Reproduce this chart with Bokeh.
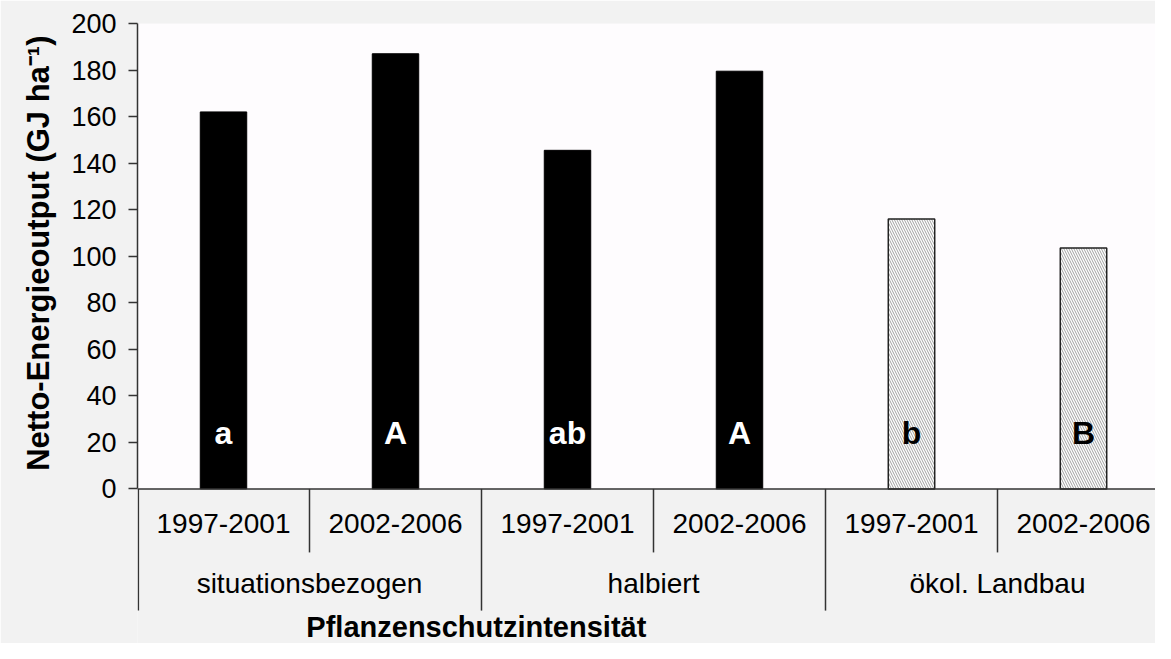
from bokeh.plotting import figure
from bokeh.models import Range1d, FixedTicker, ColumnDataSource, Title
from bokeh.core.properties import value
from bokeh.embed import file_html
from bokeh.resources import INLINE

# ---- data ----
groups = ["situationsbezogen", "halbiert", "ökol. Landbau"]
periods = ["1997-2001", "2002-2006"]
values = [162, 187, 145.5, 179.5, 116, 103.5]
letters = ["a", "A", "ab", "A", "b", "B"]
organic = [False, False, False, False, True, True]
y_ticks = [0, 20, 40, 60, 80, 100, 120, 140, 160, 180, 200]
y_label = "Netto-Energieoutput (GJ ha\u207b\u00b9)"
x_title = "Pflanzenschutzintensität"

# ---- layout constants ----
W, H = 1155, 643
LEFT, TOP = 137, 23
PX_PER_CAT = 172.0
PX_PER_UNIT = 2.327
FONT = "Liberation Sans"
n = len(values)
x_end = (W - LEFT) / PX_PER_CAT
y_bottom = 200 - (H - TOP) / PX_PER_UNIT

p = figure(width=W, height=H, x_range=Range1d(0, x_end), y_range=Range1d(y_bottom, 200),
           output_backend="svg", toolbar_location=None, x_axis_location=None,
           min_border_left=LEFT, min_border_right=0, min_border_top=TOP, min_border_bottom=0)
p.border_fill_color = "#f2f2f2"
p.background_fill_color = "#f2f2f2"
p.outline_line_color = None
p.xgrid.visible = False
p.ygrid.visible = False

# plot area
p.quad(left=[0], right=[n], bottom=[0], top=[200], fill_color="#fefcfe", line_color=None, level="underlay")

centers = [i + 0.5 for i in range(n)]
bw = 0.27
src_black = ColumnDataSource(dict(x=[c for c, o in zip(centers, organic) if not o],
                                  top=[v for v, o in zip(values, organic) if not o]))
src_hatch = ColumnDataSource(dict(x=[c for c, o in zip(centers, organic) if o],
                                  top=[v for v, o in zip(values, organic) if o]))
p.vbar(x="x", top="top", bottom=0, width=bw, source=src_black, fill_color="black", line_color="black")
p.vbar(x="x", top="top", bottom=0, width=bw, source=src_hatch, fill_color="white",
       line_color="#222222", line_width=1.5, hatch_pattern="left_diagonal_line",
       hatch_color="#a0a0a0", hatch_scale=5, hatch_weight=1)

# letters
p.text(x=centers, y=[24] * n, text=letters,
       text_color=["black" if o else "white" for o in organic],
       text_align="center", text_baseline="alphabetic", text_font=value(FONT),
       text_font_size="32px", text_font_style="bold")

# x axis baseline
p.segment(x0=[0], y0=[0], x1=[n], y1=[0], line_color="#333333", line_width=1.5)
# separators
sep_x = list(range(0, n + 1))
sep_y = [-52.3 if i % 2 == 0 else -27.3 for i in sep_x]
p.segment(x0=[x + (0.005 if x == 0 else 0) for x in sep_x], y0=[0] * len(sep_x),
          x1=[x + (0.005 if x == 0 else 0) for x in sep_x], y1=sep_y,
          line_color="#333333", line_width=1.5)

# year labels
p.text(x=centers, y=[-15] * n, text=[periods[i % 2] for i in range(n)],
       text_align="center", text_baseline="middle", text_font=value(FONT),
       text_font_size="28px", text_color="black")
# group labels
p.text(x=[2 * g + 1 for g in range(len(groups))], y=[-40.7] * len(groups), text=groups,
       text_align="center", text_baseline="middle", text_font=value(FONT),
       text_font_size="28px", text_color="black")
# x title
p.text(x=[1.97], y=[-59.5], text=[x_title], text_align="center", text_baseline="middle",
       text_font=value(FONT), text_font_size="29px", text_font_style="bold", text_color="black")

# y axis
ya = p.yaxis[0]
ya.ticker = FixedTicker(ticks=y_ticks)
ya.bounds = (0, 200)
ya.axis_line_color = "#333333"
ya.axis_line_width = 1.5
ya.major_tick_line_color = "#333333"
ya.major_tick_line_width = 1.5
ya.major_tick_in = 0
ya.major_tick_out = 9
ya.minor_tick_line_color = None
ya.major_label_standoff = 12
ya.major_label_text_font = FONT
ya.major_label_text_font_size = "27px"
ya.major_label_text_color = "black"

# y axis title as a side title, aligned to the top of the frame and nudged down
p.add_layout(Title(text=y_label, align="right", offset=12,
                   text_font=FONT, text_font_size="31px", text_font_style="bold",
                   text_color="black", standoff=25), "left")

open("out.html", "w").write(file_html(p, INLINE))
